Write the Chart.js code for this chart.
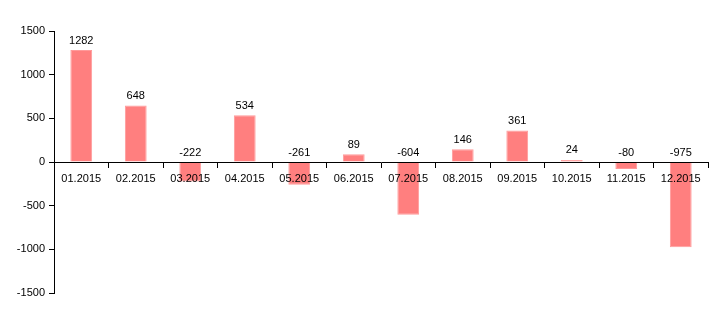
<!DOCTYPE html>
<html>
<head>
<meta charset="utf-8">
<script src="https://cdn.jsdelivr.net/npm/chart.js@4.4.0/dist/chart.umd.min.js"></script>
<style>
  html, body { margin: 0; padding: 0; background: #fff; }
  #wrap { width: 718px; height: 325px; }
</style>
</head>
<body>
<div id="wrap"><canvas id="mycanvas" width="718" height="325"></canvas></div>
<script>
// monthly values
const months = ['01.2015', '02.2015', '03.2015', '04.2015', '05.2015', '06.2015',
                '07.2015', '08.2015', '09.2015', '10.2015', '11.2015', '12.2015'];
const values = [1282, 648, -222, 534, -261, 89, -604, 146, 361, 24, -80, -975];
const yMin = -1500;
const yMax = 1500;
const yStep = 500;

Chart.defaults.font.family = 'Arial, "Liberation Sans", sans-serif';
Chart.defaults.font.size = 11;
Chart.defaults.color = '#000';

// draw the value above each bar (above zero line for negatives)
const valueLabels = {
  id: 'valueLabels',
  afterDraw(chart) {
    const ctx = chart.ctx;
    const meta = chart.getDatasetMeta(0);
    const zero = chart.scales.y.getPixelForValue(0);
    ctx.save();
    ctx.font = '11px Arial, "Liberation Sans", sans-serif';
    ctx.fillStyle = '#000';
    ctx.textAlign = 'center';
    ctx.textBaseline = 'bottom';
    meta.data.forEach(function(bar, i) {
      const top = Math.min(bar.y, zero);
      ctx.fillText(String(values[i]), bar.x, top - 4);
    });
    ctx.restore();
  }
};

var ctx_live = document.getElementById('mycanvas');

var myChart = new Chart(ctx_live, {
  type: 'bar',
  data: {
    labels: months,
    datasets: [{
      data: values,
      backgroundColor: '#ff7f7f',
      borderColor: '#ff9a9a',
      borderWidth: 1,
      barPercentage: 0.4,
      categoryPercentage: 1.0
    }]
  },
  options: {
    responsive: false,
    animation: false,
    layout: { padding: { top: 31, bottom: 32, left: 0, right: 10 } },
    plugins: {
      legend: { display: false },
      tooltip: { enabled: false }
    },
    scales: {
      x: {
        position: { y: 0 },
        grid: {
          offset: true,
          drawOnChartArea: false,
          drawTicks: true,
          tickLength: 5,
          color: '#000',
          z: 1
        },
        border: { display: true, color: '#000', width: 1, z: 1 },
        ticks: { padding: 5, maxRotation: 0, autoSkip: false, z: 1 }
      },
      y: {
        min: yMin,
        max: yMax,
        afterFit: function(scale) { scale.width = 54; },
        grid: {
          drawOnChartArea: false,
          drawTicks: true,
          tickLength: 5,
          color: '#000'
        },
        border: { display: true, color: '#000', width: 1 },
        ticks: {
          stepSize: yStep,
          padding: 4,
          callback: function(v) { return String(v); }
        }
      }
    }
  },
  plugins: [valueLabels]
});
</script>
</body>
</html>
